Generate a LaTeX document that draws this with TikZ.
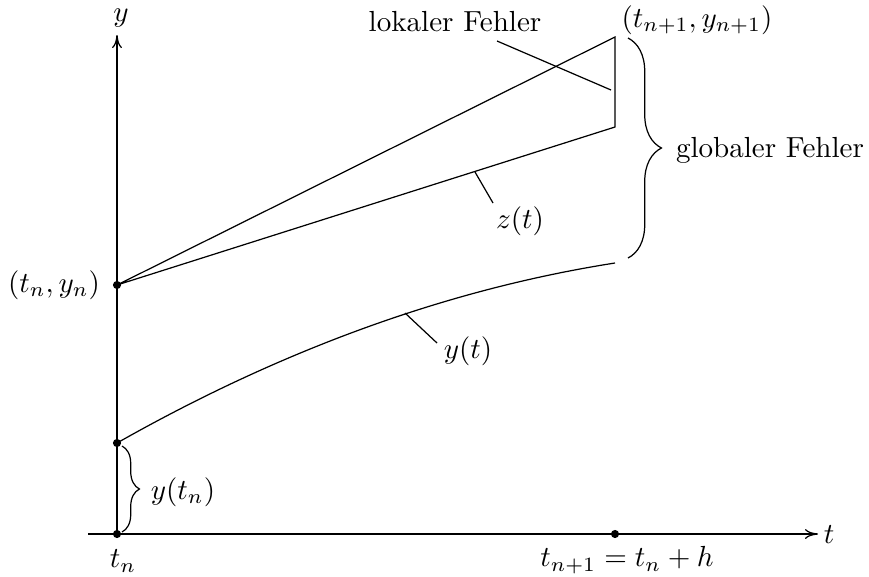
\documentclass[tikz,border=0pt]{standalone}
\usetikzlibrary{decorations.pathreplacing,arrows.meta}
\begin{document}
\begin{tikzpicture}[x=0.344pt,y=-0.344pt,
  dot/.style={circle,fill,inner sep=0pt,minimum size=2.8pt},
  lbl/.style={inner sep=0pt},
  axisarrow/.style={-{To[length=4.5pt,width=3.4pt]}},
  bracebig/.style={decorate,decoration={brace,amplitude=11.5pt}},
  bracesmall/.style={decorate,decoration={brace,amplitude=6pt}},
  line width=0.42pt]
\useasboundingbox (0,0) rectangle (869,576);
% coordinates
\coordinate (tstart) at (88,534);
\coordinate (tend) at (818,534);
\coordinate (ytop) at (117,35);
\node[dot] (O) at (117,534) {};
\node[dot] (B) at (117,443) {};
\node[dot] (A) at (117,285) {};
\node[dot] (T) at (615,534) {};
\coordinate (C) at (615,37);
\coordinate (D) at (615,127);
\coordinate (E) at (615,263);
% axes
\draw[axisarrow] (tstart) -- (tend);
\draw[axisarrow] (O.center) -- (ytop);
% lines
\draw (A.center) -- (C) -- (D) -- (A.center);
\draw (B.center) .. controls (283,349) and (449,289) .. (E);
% pointer lines
\coordinate (lf1) at (497,41);
\coordinate (lf2) at (611,90);
\draw (lf1) -- (lf2);
\coordinate (z1) at (475,172);
\coordinate (z2) at (493,203);
\draw (z1) -- (z2);
\coordinate (y1) at (405,313);
\coordinate (y2) at (437,343);
\draw (y1) -- (y2);
% braces
\coordinate (gb1) at (628,38);
\coordinate (gb2) at (628,258);
\draw[bracebig] (gb1) -- (gb2);
\coordinate (sb1) at (122,446);
\coordinate (sb2) at (122,532);
\draw[bracesmall] (sb1) -- (sb2);
% labels
\node[lbl] (ylab) at (121,18) {$y$};
\node[lbl] (tlab) at (829,535) {$t$};
\node[lbl] (tnlab) at (123,561) {$t_n$};
\node[lbl] (tn1lab) at (627,560) {$t_{n+1}=t_n+h$};
\node[lbl] (Alab) at (54,285) {$(t_n,y_n)$};
\node[lbl] (Clab) at (697,20) {$(t_{n+1},y_{n+1})$};
\node[lbl] (lok) at (455,22) {lokaler Fehler};
\node[lbl] (glob) at (770,150) {globaler Fehler};
\node[lbl] (ytnlab) at (183,492) {$y(t_n)$};
\node[lbl] (ytlab) at (468,351) {$y(t)$};
\node[lbl] (ztlab) at (520,221) {$z(t)$};
\end{tikzpicture}
\end{document}
